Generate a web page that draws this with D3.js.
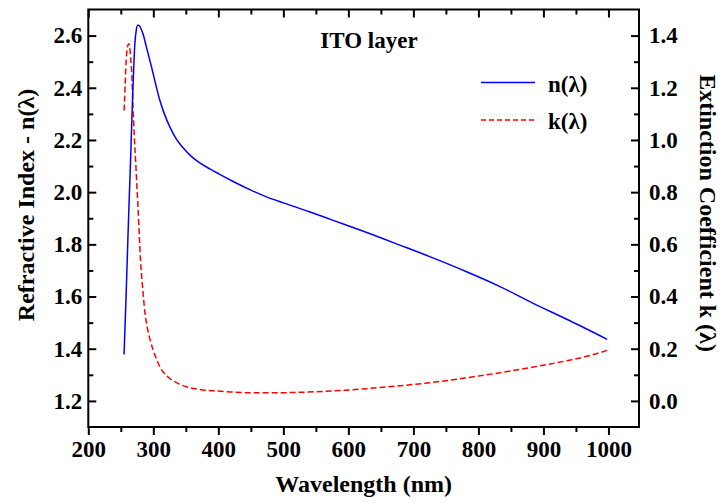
<!DOCTYPE html>
<html>
<head>
<meta charset="utf-8">
<script src="https://cdn.jsdelivr.net/npm/d3@7"></script>
<style>
  html, body { margin: 0; padding: 0; background: #fff; }
  svg { display: block; }
  text { font-family: "Liberation Serif", "Times New Roman", serif; font-weight: bold; fill: #000; }
</style>
</head>
<body>
<svg id="chart" width="720" height="504"></svg>
<script>
// Refractive index n(λ) of the ITO layer
const nWavelength = [255, 257, 259, 261, 263, 265, 267, 269, 271.5, 274, 276, 277.7, 280, 284.3, 290, 297.2, 303, 310, 317, 325.4, 335, 345.8, 358, 371.5, 386.9, 400, 422.8, 450, 474.1, 500, 540, 576.6, 620, 679.2, 730, 781.8, 830, 884.3, 940, 998];
const nValues     = [1.378, 1.52, 1.67, 1.83, 1.98, 2.12, 2.28, 2.42, 2.565, 2.625, 2.64, 2.64, 2.632, 2.605, 2.55, 2.48, 2.42, 2.352, 2.30, 2.25, 2.205, 2.17, 2.138, 2.112, 2.089, 2.071, 2.041, 2.008, 1.982, 1.959, 1.925, 1.892, 1.853, 1.797, 1.748, 1.695, 1.642, 1.574, 1.508, 1.436];

// Extinction coefficient k(λ) of the ITO layer
const kWavelength = [255.1, 256.5, 257.7, 259, 260.5, 262.3, 264, 265.3, 266.4, 269, 271, 273, 275, 276.7, 278.5, 280.3, 282.3, 284.3, 287, 290.5, 295, 299.7, 305, 310, 317, 325.4, 337, 351, 371.5, 397, 420, 448, 490, 525, 575, 628, 680, 730, 780, 833, 885, 935.7, 970, 999.7];
const kValues     = [1.113, 1.20, 1.279, 1.33, 1.36, 1.369, 1.35, 1.31, 1.279, 1.113, 1.00, 0.91, 0.81, 0.731, 0.63, 0.539, 0.47, 0.412, 0.34, 0.284, 0.235, 0.195, 0.16, 0.131, 0.105, 0.086, 0.068, 0.054, 0.044, 0.038, 0.034, 0.031, 0.031, 0.033, 0.038, 0.047, 0.058, 0.071, 0.088, 0.108, 0.13, 0.154, 0.173, 0.195];

// Axis ticks
const xMajorTicks = [200, 300, 400, 500, 600, 700, 800, 900, 1000];
const xMinorTicks = [250, 350, 450, 550, 650, 750, 850, 950];
const nMajorTicks = [1.2, 1.4, 1.6, 1.8, 2.0, 2.2, 2.4, 2.6];
const nMinorTicks = [1.3, 1.5, 1.7, 1.9, 2.1, 2.3, 2.5];
const kMajorTicks = [0.0, 0.2, 0.4, 0.6, 0.8, 1.0, 1.2, 1.4];
const kMinorTicks = [0.1, 0.3, 0.5, 0.7, 0.9, 1.1, 1.3];

const seriesNames = ["n(\u03bb)", "k(\u03bb)"];

const svg = d3.select("#chart");
const plotLeft = 88.3, plotRight = 639, plotTop = 9.5, plotBottom = 427;

const x = d3.scaleLinear().domain([200, 1047]).range([plotLeft, plotRight]);
const yN = d3.scaleLinear().domain([1.1, 2.7]).range([plotBottom, plotTop]);
const yK = d3.scaleLinear().domain([-0.1, 1.5]).range([plotBottom, plotTop]);

const fmt1 = d3.format(".1f");
const major = 8, minor = 5;

function styleAxis(g) {
  g.select(".domain").remove();
  g.selectAll(".tick line").attr("stroke", "#000").attr("stroke-width", 2);
  g.selectAll(".tick text").style("font-size", "23px");
}

// bottom axis: outward ticks with labels
svg.append("g").attr("transform", `translate(0,${plotBottom})`)
  .call(d3.axisBottom(x).tickValues(xMajorTicks).tickSize(major).tickPadding(6).tickFormat(d3.format("d")))
  .call(styleAxis);
svg.append("g").attr("transform", `translate(0,${plotBottom})`)
  .call(d3.axisBottom(x).tickValues(xMinorTicks).tickSize(minor).tickFormat(""))
  .call(styleAxis);

// top axis: inward ticks
svg.append("g").attr("transform", `translate(0,${plotTop})`)
  .call(d3.axisTop(x).tickValues(xMajorTicks).tickSize(-major).tickFormat(""))
  .call(styleAxis);
svg.append("g").attr("transform", `translate(0,${plotTop})`)
  .call(d3.axisTop(x).tickValues(xMinorTicks).tickSize(-minor).tickFormat(""))
  .call(styleAxis);

// left axis (n): inward ticks
svg.append("g").attr("transform", `translate(${plotLeft},0)`)
  .call(d3.axisLeft(yN).tickValues(nMajorTicks).tickSize(-major).tickPadding(6).tickFormat(fmt1))
  .call(styleAxis);
svg.append("g").attr("transform", `translate(${plotLeft},0)`)
  .call(d3.axisLeft(yN).tickValues(nMinorTicks).tickSize(-minor).tickFormat(""))
  .call(styleAxis);

// right axis (k): inward ticks
svg.append("g").attr("transform", `translate(${plotRight},0)`)
  .call(d3.axisRight(yK).tickValues(kMajorTicks).tickSize(-major).tickPadding(10).tickFormat(fmt1))
  .call(styleAxis);
svg.append("g").attr("transform", `translate(${plotRight},0)`)
  .call(d3.axisRight(yK).tickValues(kMinorTicks).tickSize(-minor).tickFormat(""))
  .call(styleAxis);

// frame
svg.append("rect")
  .attr("x", plotLeft).attr("y", plotTop)
  .attr("width", plotRight - plotLeft).attr("height", plotBottom - plotTop)
  .attr("fill", "none").attr("stroke", "#000").attr("stroke-width", 2);

// curves
const nLine = d3.line().x((d, i) => x(nWavelength[i])).y(d => yN(d)).curve(d3.curveMonotoneX);
const kLine = d3.line().x((d, i) => x(kWavelength[i])).y(d => yK(d)).curve(d3.curveMonotoneX);

svg.append("path").datum(kValues).attr("d", kLine)
  .attr("fill", "none").attr("stroke", "#ff0000").attr("stroke-width", 1.5)
  .attr("stroke-dasharray", "6,3");
svg.append("path").datum(nValues).attr("d", nLine)
  .attr("fill", "none").attr("stroke", "#0000ff").attr("stroke-width", 1.5);

// title
svg.append("text").attr("x", 369).attr("y", 48).attr("text-anchor", "middle")
  .style("font-size", "23px").text("ITO layer");

// legend
const legend = [
  { name: seriesNames[0], color: "#0000ff", dash: null, y: 82.5 },
  { name: seriesNames[1], color: "#ff0000", dash: "5,3", y: 120 }
];
legend.forEach(l => {
  svg.append("line").attr("x1", 481).attr("x2", 535).attr("y1", l.y).attr("y2", l.y)
    .attr("stroke", l.color).attr("stroke-width", 1.5).attr("stroke-dasharray", l.dash);
  svg.append("text").attr("x", 548).attr("y", l.y + 9).style("font-size", "23px").text(l.name);
});

// axis titles
svg.append("text").attr("x", (plotLeft + plotRight) / 2).attr("y", 492).attr("text-anchor", "middle")
  .style("font-size", "24px").text("Wavelength (nm)");
svg.append("text").attr("transform", `translate(34,205) rotate(-90)`)
  .attr("text-anchor", "middle").style("font-size", "24px").text("Refractive Index - n(\u03bb)");
svg.append("text").attr("transform", `translate(700,213) rotate(90)`)
  .attr("text-anchor", "middle").style("font-size", "24px").text("Extinction Coefficient k (\u03bb)");
</script>
</body>
</html>
